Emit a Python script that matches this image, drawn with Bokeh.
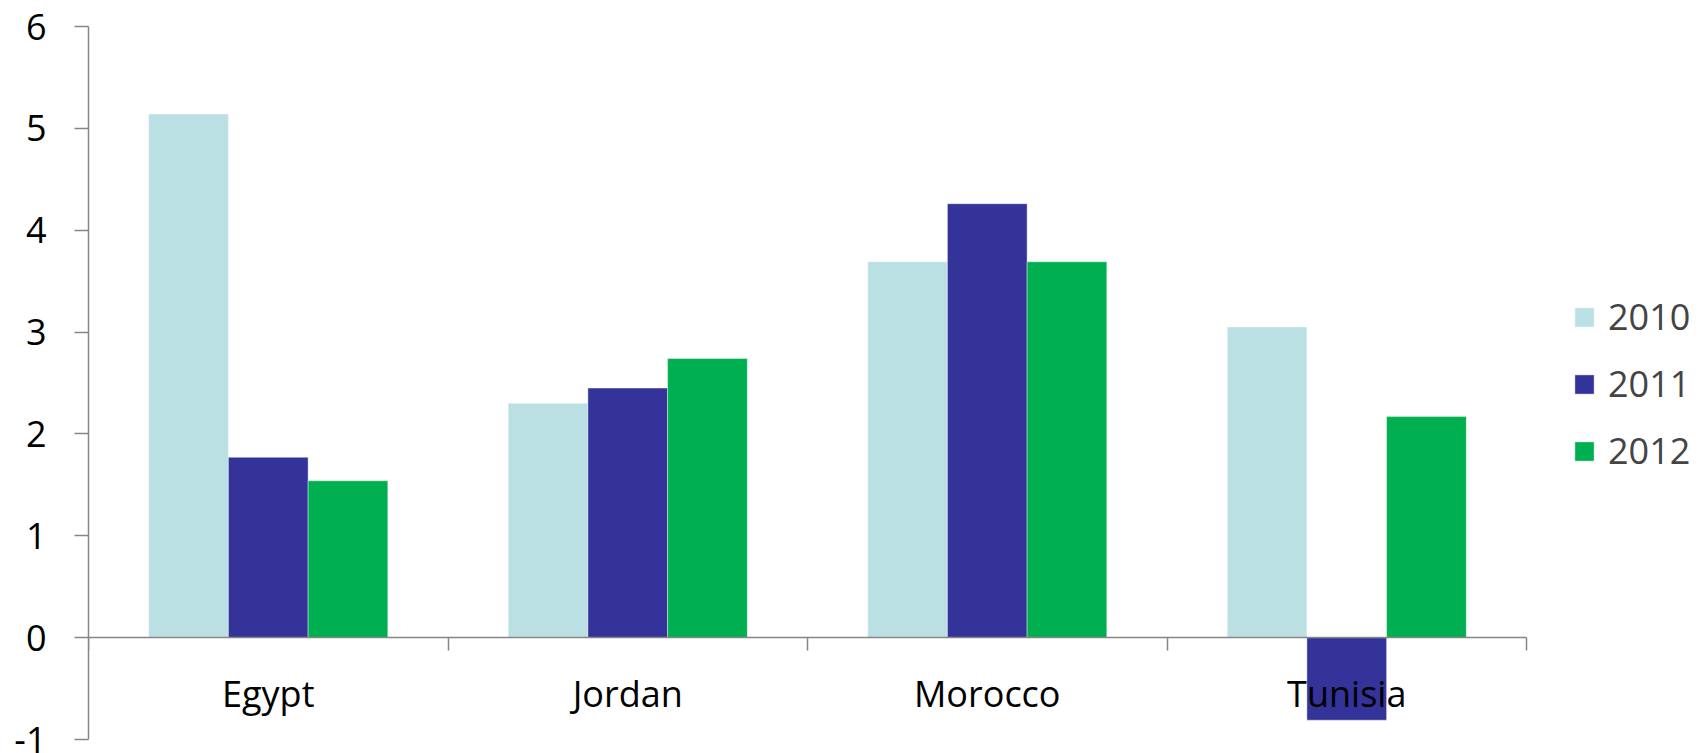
import numpy as np
from bokeh.plotting import figure
from bokeh.models import (ColumnDataSource, FixedTicker, LinearAxis, Range1d,
                          Legend, LegendItem)
from bokeh.core.properties import value
from bokeh.embed import file_html
from bokeh.resources import INLINE

# Data
countries = ["Egypt", "Jordan", "Morocco", "Tunisia"]
years = ["2010", "2011", "2012"]
growth_2010 = [5.14, 2.30, 3.69, 3.05]
growth_2011 = [1.77, 2.45, 4.26, -0.81]
growth_2012 = [1.54, 2.74, 3.69, 2.17]
y_ticks = [-1, 0, 1, 2, 3, 4, 5, 6]

colors = ["#BBE0E3", "#333399", "#00AF50"]
series = [growth_2010, growth_2011, growth_2012]

FONT = "Open Sans"
FS = "36px"
AXIS_GREY = "#868686"

# Layout: the plotting frame runs to the right edge so the legend can sit in it;
# the category axis only spans the first 1438 px of the 1618 px frame.
W, H = 1706, 753
LEFT = 88
AXIS_SPAN_PX = 1438
n = len(countries)
x_end = n * (W - LEFT) / AXIS_SPAN_PX

p = figure(width=W, height=H, output_backend="svg", toolbar_location=None,
           x_range=Range1d(0, x_end), y_range=Range1d(y_ticks[0], y_ticks[-1]),
           x_axis_type=None, y_axis_location="left",
           min_border_left=LEFT, min_border_right=0, min_border_top=26,
           min_border_bottom=14)
p.outline_line_color = None
p.xgrid.visible = False
p.ygrid.visible = False

# Bars: three per country, side by side
centers = np.arange(n) + 0.5
bar_w = 0.2217
renderers = []
for k, (vals, col) in enumerate(zip(series, colors)):
    src = ColumnDataSource(dict(x=centers + (k - 1) * bar_w, top=vals))
    r = p.vbar(x="x", top="top", bottom=0, width=bar_w, source=src,
               fill_color=col, line_color="white", line_alpha=0.4, line_width=1)
    renderers.append(r)

# Y axis
yax = p.yaxis[0]
yax.ticker = FixedTicker(ticks=y_ticks)
yax.major_label_overrides = {t: str(t) for t in y_ticks}
yax.major_tick_out = 14
yax.major_tick_in = 0
yax.minor_tick_line_color = None
yax.axis_line_color = AXIS_GREY
yax.axis_line_width = 1.5
yax.major_tick_line_color = AXIS_GREY
yax.major_tick_line_width = 1.5
yax.major_label_standoff = 28
yax.major_label_text_font = FONT
yax.major_label_text_font_size = FS
yax.major_label_text_color = "black"

# X axis pinned at zero, ticks on category boundaries
bounds_ticks = list(range(n + 1))
xax = LinearAxis(fixed_location=0, bounds=(0, n),
                 ticker=FixedTicker(ticks=bounds_ticks))
xax.major_label_overrides = {t: "" for t in bounds_ticks}
xax.major_tick_out = 13
xax.major_tick_in = 0
xax.minor_tick_line_color = None
xax.axis_line_color = AXIS_GREY
xax.axis_line_width = 1.5
xax.major_tick_line_color = AXIS_GREY
xax.major_tick_line_width = 1.5
xax.major_label_standoff = 0
p.add_layout(xax, "below")

# Category labels
lab_src = ColumnDataSource(dict(x=centers, y=[0] * n, t=countries))
p.text(x="x", y="y", text="t", source=lab_src, y_offset=56,
       text_align="center", text_baseline="middle",
       text_font=value(FONT), text_font_size=FS, text_color="black")

# Legend
legend = Legend(items=[LegendItem(label=y, renderers=[r]) for y, r in zip(years, renderers)],
                location=(1572 - LEFT, 264), orientation="vertical",
                glyph_width=24, glyph_height=24, label_standoff=12,
                label_text_font=FONT, label_text_font_size=FS,
                spacing=18, padding=0, margin=0,
                border_line_color=None, background_fill_alpha=0)
p.add_layout(legend, "center")

open("out.html", "w").write(file_html(p, INLINE))
